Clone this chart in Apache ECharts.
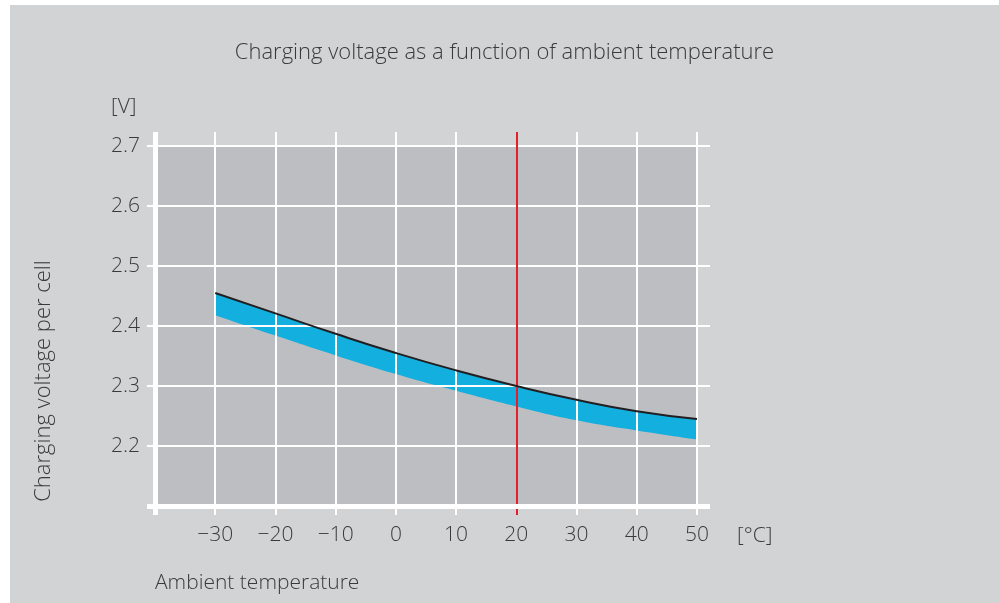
<!DOCTYPE html>
<html>
<head>
<meta charset="utf-8">
<script src="https://cdn.jsdelivr.net/npm/echarts@6/dist/echarts.min.js"></script>
<style>
html,body{margin:0;padding:0;background:#ffffff;}
#c{position:absolute;left:10px;top:5px;width:989px;height:598px;}
</style>
</head>
<body>
<div id="c"></div>
<script>
// ---- data ----
var temperatures = [-30, -20, -10, 0, 10, 20, 30, 40, 50];
var upperVoltage = [2.455, 2.421, 2.387, 2.355, 2.326, 2.300, 2.277, 2.258, 2.245];
var lowerVoltage = [2.418, 2.384, 2.351, 2.320, 2.292, 2.266, 2.243, 2.226, 2.211];
var xGridValues = [-30, -20, -10, 0, 10, 20, 30, 40, 50];
var yGridValues = [2.2, 2.3, 2.4, 2.5, 2.6, 2.7];
var referenceTemp = 20;
var titleText = 'Charging voltage as a function of ambient temperature';
var yName = 'Charging voltage per cell';
var xName = 'Ambient temperature';
var yUnit = '[V]';
var xUnit = '[°C]';

// ---- layout ----
var W = 989, H = 598;
var gA = {left: 145, top: 141, right: 302, bottom: 97};
var xMin = -40, xMax = 50, yMin = 2.1, yMax = 2.7;
var pxX = (W - gA.left - gA.right) / (xMax - xMin);
var pxY = (H - gA.top - gA.bottom) / (yMax - yMin);
// overhangs of the line work (px)
var ovL = 8, ovR = 13, ovT = 14, ovB = 9;
var gB = {left: gA.left - ovL, top: gA.top - ovT, right: gA.right - ovR, bottom: gA.bottom - ovB};

var font = '"Open Sans", sans-serif';
var txt = '#3a3a3a';
var plotBg = '#bdbec2';

var lowerPts = temperatures.map(function (t, i) { return [t, lowerVoltage[i]]; });
var upperPts = temperatures.map(function (t, i) { return [t, upperVoltage[i]]; });

function ml(list, key, color, width) {
  return list.map(function (v) {
    var o = {}; o[key] = v;
    o.lineStyle = {color: color, width: width, type: 'solid'};
    return o;
  });
}

var chart = echarts.init(document.getElementById('c'));
chart.setOption({
  backgroundColor: '#d2d3d5',
  animation: false,
  title: {
    text: titleText, left: 'center', top: 32,
    textStyle: {fontFamily: font, fontSize: 22, fontWeight: 300, color: txt}
  },
  grid: [
    {left: gA.left, top: gA.top, right: gA.right, bottom: gA.bottom, show: true, backgroundColor: plotBg, borderWidth: 0},
    {left: gB.left, top: gB.top, right: gB.right, bottom: gB.bottom}
  ],
  xAxis: [
    {gridIndex: 0, type: 'value', min: xMin, max: xMax, interval: 10,
     axisLine: {show: false}, axisTick: {show: false}, splitLine: {show: false},
     axisLabel: {margin: 19, fontFamily: font, fontSize: 21, fontWeight: 300, color: txt,
       formatter: function (v) { return v === xMin ? '' : String(v).replace('-', '\u2212'); }}},
    {gridIndex: 1, type: 'value', min: xMin - ovL / pxX, max: xMax + ovR / pxX, show: false, splitLine: {show: false}}
  ],
  yAxis: [
    {gridIndex: 0, type: 'value', min: yMin, max: yMax, interval: 0.1,
     axisLine: {show: false}, axisTick: {show: false}, splitLine: {show: false},
     axisLabel: {margin: 15, fontFamily: font, fontSize: 21, fontWeight: 300, color: txt,
       formatter: function (v) { return Math.abs(v - yMin) < 1e-6 ? '' : v.toFixed(1); }}},
    {gridIndex: 1, type: 'value', min: yMin - ovB / pxY, max: yMax + ovT / pxY, show: false, splitLine: {show: false}}
  ],
  series: [
    {type: 'line', xAxisIndex: 0, yAxisIndex: 0, data: upperPts, symbol: 'none',
     smooth: true, lineStyle: {opacity: 0}, areaStyle: {color: '#12afdf', opacity: 1, origin: 'start'}, z: 2},
    {type: 'line', xAxisIndex: 0, yAxisIndex: 0, data: lowerPts, symbol: 'none',
     smooth: true, lineStyle: {opacity: 0}, areaStyle: {color: plotBg, opacity: 1, origin: 'start'}, z: 3},
    {type: 'line', xAxisIndex: 1, yAxisIndex: 1, data: [], z: 4,
     markLine: {silent: true, symbol: 'none', label: {show: false}, animation: false,
       data: ml(xGridValues, 'xAxis', '#ffffff', 2).concat(ml(yGridValues, 'yAxis', '#ffffff', 2))}},
    {type: 'line', xAxisIndex: 0, yAxisIndex: 0, data: upperPts, symbol: 'none', smooth: true,
     lineStyle: {color: '#231f20', width: 2}, z: 5},
    {type: 'line', xAxisIndex: 1, yAxisIndex: 1, data: [], z: 6,
     markLine: {silent: true, symbol: 'none', label: {show: false}, animation: false,
       data: ml([referenceTemp], 'xAxis', '#e3202a', 2)}},
    {type: 'line', xAxisIndex: 1, yAxisIndex: 1, data: [], z: 7,
     markLine: {silent: true, symbol: 'none', label: {show: false}, animation: false,
       data: ml([xMin], 'xAxis', '#ffffff', 5).concat(ml([yMin], 'yAxis', '#ffffff', 5))}}
  ],
  graphic: [
    {type: 'text', left: 101, top: 92, style: {text: yUnit, font: '300 21px ' + font, fill: txt}},
    {type: 'text', left: 727, top: 521, style: {text: xUnit, font: '300 21px ' + font, fill: txt}},
    {type: 'text', left: 145, top: 568, style: {text: xName, font: '300 21px ' + font, fill: txt}},
    {type: 'text', x: 34, y: 376, rotation: Math.PI / 2,
     style: {text: yName, font: '300 22px ' + font, fill: txt, align: 'center', verticalAlign: 'middle'}}
  ]
});
</script>
</body>
</html>
